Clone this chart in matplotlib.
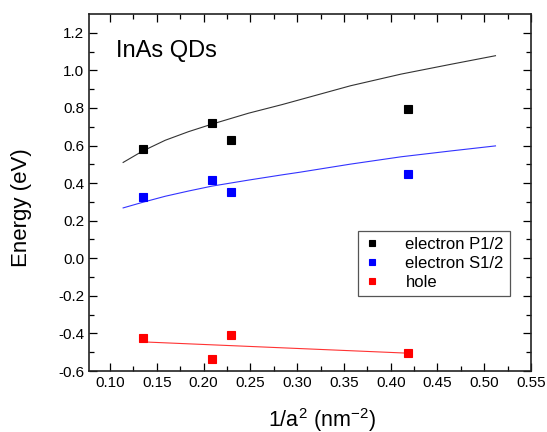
import matplotlib.pyplot as plt

plt.rcParams['font.family'] = ['Liberation Sans', 'DejaVu Sans']
plt.rcParams['mathtext.fontset'] = 'custom'
plt.rcParams['mathtext.rm'] = 'Liberation Sans'
plt.rcParams['mathtext.default'] = 'regular'
plt.rcParams['axes.unicode_minus'] = False

# measured points
inv_a2 = [0.135, 0.209, 0.229, 0.418]
e_p12 = [0.580, 0.722, 0.630, 0.794]
e_s12 = [0.327, 0.414, 0.353, 0.446]
hole = [-0.427, -0.534, -0.409, -0.505]

# calculated curves
fit_x = [0.114, 0.135, 0.159, 0.184, 0.209, 0.248, 0.284, 0.303, 0.357, 0.411, 0.464, 0.512]
fit_p12 = [0.510, 0.571, 0.628, 0.674, 0.714, 0.772, 0.818, 0.844, 0.918, 0.980, 1.032, 1.078]
fit_s12 = [0.268, 0.298, 0.330, 0.358, 0.384, 0.416, 0.444, 0.458, 0.501, 0.540, 0.571, 0.598]
hole_fit_x = [0.135, 0.418]
hole_fit = [-0.445, -0.505]

fig = plt.figure(figsize=(5.47, 4.32), dpi=100)
ax = fig.add_axes([0.1627, 0.1412, 0.8081, 0.8264])

ax.plot(fit_x, fit_p12, color='#333333', lw=0.8)
ax.plot(fit_x, fit_s12, color='#3333ff', lw=0.8)
ax.plot(hole_fit_x, hole_fit, color='#ff3333', lw=0.8)

ax.plot(inv_a2, e_p12, 's', color='black', ms=5.5, mew=0.8, ls='none', label='electron P1/2')
ax.plot(inv_a2, e_s12, 's', color='blue', ms=5.5, mew=0.8, ls='none', label='electron S1/2')
ax.plot(inv_a2, hole, 's', color='red', ms=5.5, mew=0.8, ls='none', label='hole')

ax.set_xlim(0.0775, 0.55)
ax.set_ylim(-0.6, 1.3)
ax.set_xticks([0.10, 0.15, 0.20, 0.25, 0.30, 0.35, 0.40, 0.45, 0.50, 0.55])
ax.set_xticklabels(['0.10', '0.15', '0.20', '0.25', '0.30', '0.35', '0.40', '0.45', '0.50', '0.55'])
ax.set_xticks([0.125, 0.175, 0.225, 0.275, 0.325, 0.375, 0.425, 0.475, 0.525], minor=True)
ax.set_yticks([-0.6, -0.4, -0.2, 0.0, 0.2, 0.4, 0.6, 0.8, 1.0, 1.2])
ax.set_yticklabels(['-0.6', '-0.4', '-0.2', '0.0', '0.2', '0.4', '0.6', '0.8', '1.0', '1.2'])
ax.set_yticks([-0.5, -0.3, -0.1, 0.1, 0.3, 0.5, 0.7, 0.9, 1.1], minor=True)

ax.tick_params(which='both', direction='in', top=True, right=True, labelsize=11, width=0.9)
ax.tick_params(which='major', length=6)
ax.tick_params(which='minor', length=3.5)
for s in ax.spines.values():
    s.set_linewidth(1.2)
    s.set_color('#222222')

ax.set_xlabel('1/a$^2$ (nm$^{-2}$)', fontsize=15.5)
ax.xaxis.set_label_coords(0.527, -0.097)
ax.set_ylabel('Energy (eV)', fontsize=16, va='center')
ax.yaxis.set_label_coords(-0.152, 0.459)

ax.text(0.1064, 1.073, 'InAs QDs', fontsize=17)

leg = ax.legend(loc='upper right', bbox_to_anchor=(0.952, 0.392), borderaxespad=0,
                fontsize=12, markerscale=0.85, handlelength=1.0, handletextpad=1.5,
                labelspacing=0.25, borderpad=0.35, fancybox=False, framealpha=1)
leg.get_frame().set_edgecolor('#555555')
leg.get_frame().set_linewidth(0.9)

fig.savefig('out.png', dpi=100)
